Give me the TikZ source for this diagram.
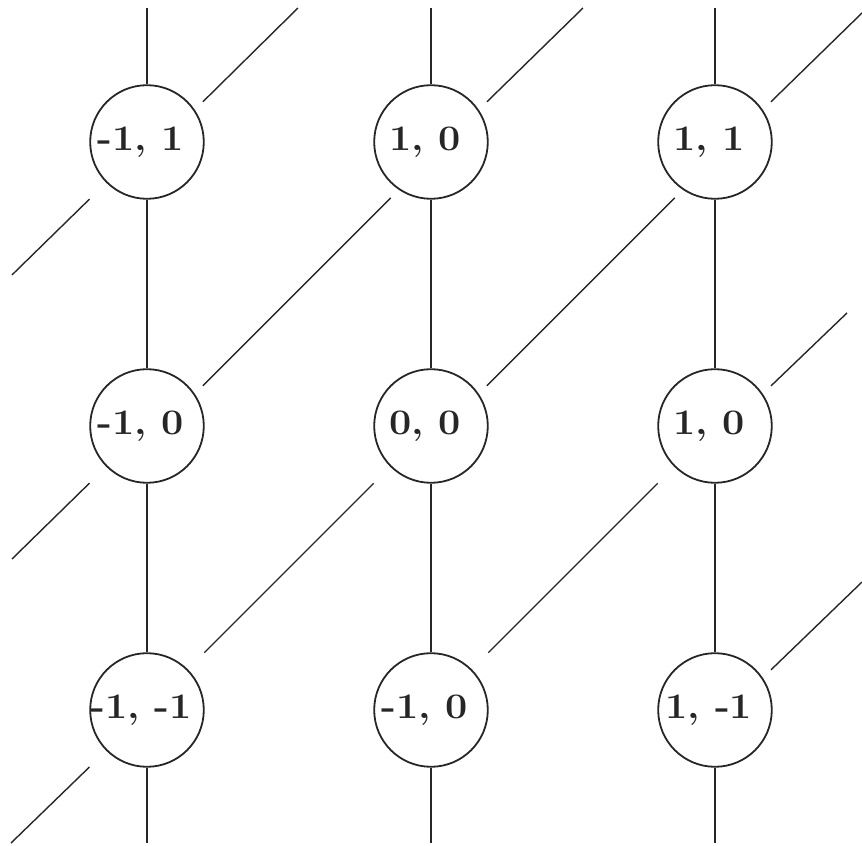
\documentclass[tikz,border=0pt]{standalone}
\usepackage{amsmath}
\usepackage{tikz}

\begin{document}
\begin{tikzpicture}
\tikzstyle{site}=[circle,draw=black!85,line width=0.9pt,minimum size=2cm,inner sep=0pt];
\tikzstyle{tag}=[font=\fontsize{18}{22}\selectfont\bfseries,text=black!85,xshift=-3pt,xscale=1.1,transform shape];
\tikzstyle{bond}=[draw=black!85,line width=0.7pt];
\tikzstyle{skew}=[bond,shorten <=0.2cm,shorten >=0.2cm];
\tikzstyle{diag}=[bond,shorten <=0.41cm,shorten >=0.41cm];
\useasboundingbox (-7.588,-7.394) rectangle (7.588,7.5);

% top row
\node [site] (v1) at (-5,5) {};
\node [tag] at (v1) {-1, 1};
\node [site] (v2) at (0,5) {};
\node [tag] at (v2) {1, 0};
\node [site] (v3) at (5,5) {};
\node [tag] at (v3) {1, 1};

% middle row
\node [site] (v4) at (-5,0) {};
\node [tag] at (v4) {-1, 0};
\node [site] (v5) at (0,0) {};
\node [tag] at (v5) {0, 0};
\node [site] (v6) at (5,0) {};
\node [tag] at (v6) {1, 0};

% bottom row
\node [site] (v7) at (-5,-5) {};
\node [tag] at (v7) {-1, -1};
\node [site] (v8) at (0,-5) {};
\node [tag] at (v8) {-1, 0};
\node [site] (v9) at (5,-5) {};
\node [tag] at (v9) {1, -1};

% loose ends
\coordinate (t1) at (-5,7.359);
\coordinate (t2) at (0,7.359);
\coordinate (t3) at (5,7.359);
\coordinate (b1) at (-5,-7.342);
\coordinate (b2) at (0,-7.342);
\coordinate (b3) at (5,-7.342);
\coordinate (e1) at (-2.342,7.359);
\coordinate (e2) at (2.676,7.359);
\coordinate (e3) at (7.588,7.271);
\coordinate (e4) at (7.324,1.990);
\coordinate (e5) at (7.588,-2.747);
\coordinate (w1) at (-7.377,2.659);
\coordinate (w2) at (-7.377,-2.342);
\coordinate (w3) at (-7.394,-7.342);

\draw [bond] (t1) -- (v1) -- (v4) -- (v7) -- (b1);
\draw [bond] (t2) -- (v2) -- (v5) -- (v8) -- (b2);
\draw [bond] (t3) -- (v3) -- (v6) -- (v9) -- (b3);

\draw [skew] (v4.34) -- (v2.236);
\draw [skew] (v5.34) -- (v3.236);
\draw [diag] (v7.45) -- (v5.225);
\draw [diag] (v8.45) -- (v6.225);

\draw [bond,shorten <=0.2cm] (v1.34) -- (e1);
\draw [bond,shorten <=0.2cm] (v2.34) -- (e2);
\draw [bond,shorten <=0.2cm] (v3.34) -- (e3);
\draw [bond,shorten <=0.2cm] (v6.34) -- (e4);
\draw [bond,shorten <=0.2cm] (v9.34) -- (e5);
\draw [bond,shorten <=0.41cm] (v1.225) -- (w1);
\draw [bond,shorten <=0.41cm] (v4.225) -- (w2);
\draw [bond,shorten <=0.41cm] (v7.225) -- (w3);
\end{tikzpicture}
\end{document}
